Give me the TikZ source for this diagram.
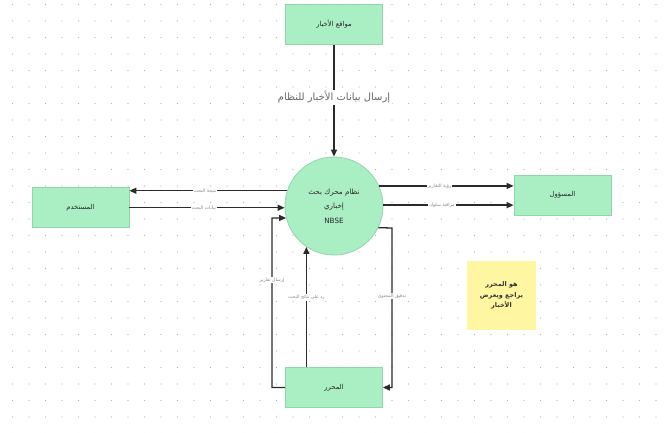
\documentclass[tikz,border=0pt]{standalone}
\usepackage{fontspec}
\setmainfont{DejaVu Sans}
\newfontfamily\arabicfont[Script=Arabic]{DejaVu Sans}
\TeXXeTstate=1
\usetikzlibrary{arrows.meta}
\definecolor{boxgreen}{HTML}{AAEEC4}
\definecolor{boxline}{HTML}{8FD6A8}
\definecolor{noteyellow}{HTML}{FFF6A1}
\definecolor{linegray}{HTML}{2A2A2A}
\definecolor{labgray}{HTML}{858585}
\tikzset{
  entity/.style={draw=boxline, fill=boxgreen, line width=0.8pt, minimum width=97pt, minimum height=40pt, inner sep=0pt, font=\arabicfont\fontsize{6.8}{8}\selectfont, text=black!85},
  proc/.style={circle, draw=boxline, fill=boxgreen, line width=0.8pt, minimum size=98pt, inner sep=0pt, align=center, font=\arabicfont\fontsize{7.2}{14.5}\selectfont, text=black!85},
  notebox/.style={fill=noteyellow, minimum width=69pt, minimum height=69pt, inner sep=0pt, align=center, font=\arabicfont\bfseries\fontsize{6.5}{10.5}\selectfont, text=black!80},
  flow/.style={draw=linegray, line width=1.3pt, -{Triangle[length=7pt,width=6pt]}},
  lab/.style={fill=white, inner sep=1pt, text=labgray, font=\arabicfont\fontsize{4.6}{5}\selectfont},
  biglab/.style={fill=white, inner sep=1.5pt, text=black!60, font=\arabicfont\fontsize{10}{11}\selectfont}
}
\begin{document}
\begin{tikzpicture}[x=1pt,y=-1pt]
\useasboundingbox (0,0) rectangle (667,432);
\fill[white] (0,0) rectangle (667,432);
\foreach \i in {0,...,40} {
  \foreach \j in {0,...,26} {
    \fill[gray!60] (12.5+16.5*\i, 4.5+16.5*\j) circle (0.6pt);
  }
}
% nodes
\node[entity] (news) at (334,24.5) {\beginR مواقع الأخبار\endR};
\node[proc] (sys) at (334,206) {\beginR نظام محرك بحث\endR\\\beginR إخباري\endR\\NBSE};
\node[entity] (user) at (80.5,207.5) {\beginR المستخدم\endR};
\node[entity] (mgr) at (562.5,195) {\beginR المسؤول\endR};
\node[entity] (editor) at (334,387.5) {\beginR المحرر\endR};
\node[notebox] (note) at (501.5,295.5) {\beginR هو المحرر\endR\\\beginR يراجع ويعرض\endR\\\beginR الأخبار\endR};
% connectors
\draw[flow] (news.south) -- node[biglab, pos=0.47] {\beginR إرسال بيانات الأخبار للنظام\endR} (sys.north);
\draw[flow] (sys.162.2) -- node[lab, pos=0.52] {\beginR نتيجة البحث\endR} (sys.162.2 -| user.east);
\draw[flow] (sys.182.3 -| user.east) -- node[lab, pos=0.48] {\beginR بيانات البحث\endR} (sys.182.3);
\draw[flow] (sys.24.1) -- node[lab, pos=0.45] {\beginR رؤية التقارير\endR} (sys.24.1 -| mgr.west);
\draw[flow] (sys.1.2) -- node[lab, pos=0.45] {\beginR مراقبة سلوك\endR} (sys.1.2 -| mgr.west);
\coordinate (lt) at (272,218);
\coordinate (rt) at (392,228);
\draw[flow] (editor.west) -| node[lab, pos=0.817] {\beginR إرسال تقارير\endR} (lt) -- (sys.194.2);
\draw[flow] (editor.north -| sys.236.6) -- node[lab, pos=0.58] {\beginR رد على نتائج البحث\endR} (sys.236.6);
\draw[flow] (sys.-26.7) -- (rt) |- node[lab, pos=0.213] {\beginR تدقيق المحتوى\endR} (editor.east);
\end{tikzpicture}
\end{document}
